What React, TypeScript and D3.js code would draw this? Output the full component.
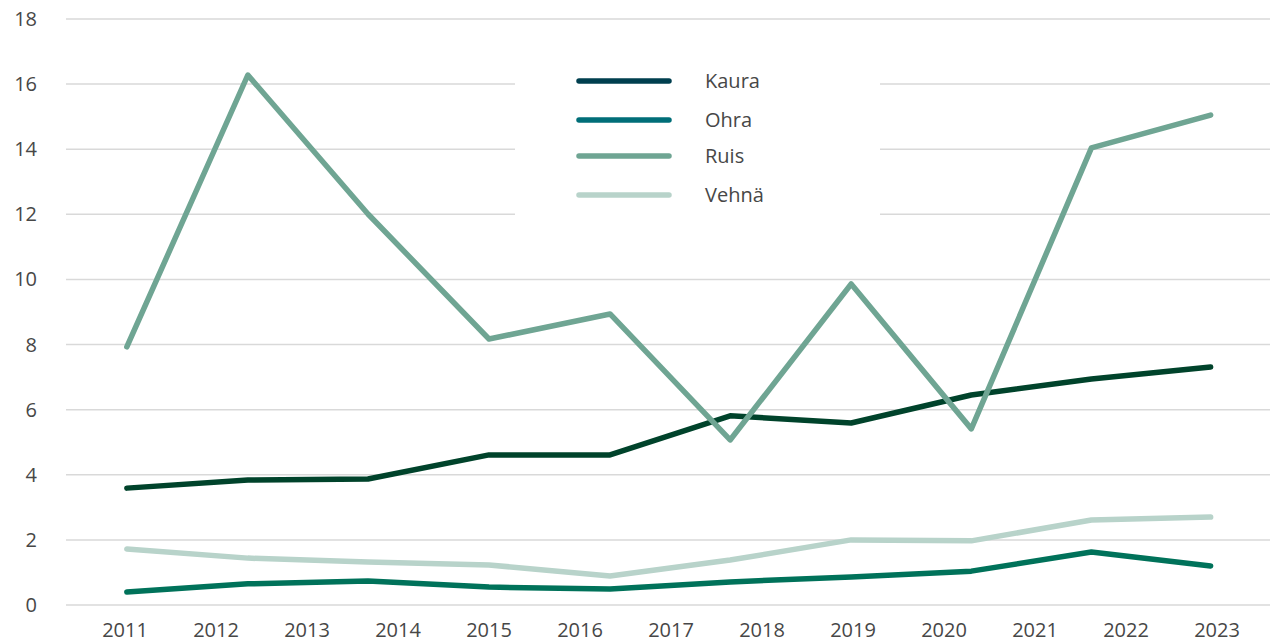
import React from "react";
import * as d3 from "d3";

const yearLabels = ["2011","2012","2013","2014","2015","2016","2017","2018","2019","2020","2021","2022","2023"];
// data points sit at fractional positions on the year axis
const pointYears = [2011.02, 2012.35, 2013.67, 2015.0, 2016.33, 2017.65, 2018.98, 2020.3, 2021.62, 2022.93];
const kaura = [3.59, 3.84, 3.87, 4.61, 4.61, 5.81, 5.59, 6.45, 6.94, 7.31];
const ohra = [0.4, 0.65, 0.74, 0.55, 0.49, 0.71, 0.86, 1.04, 1.63, 1.2];
const ruis = [7.93, 16.28, 12.01, 8.17, 8.94, 5.07, 9.86, 5.41, 14.04, 15.05];
const vehna = [1.72, 1.44, 1.32, 1.23, 0.89, 1.38, 2.0, 1.97, 2.61, 2.7];
const yTicks = [0, 2, 4, 6, 8, 10, 12, 14, 16, 18];

const seriesNames = ["Kaura", "Ohra", "Ruis", "Vehnä"];
const seriesValues = [kaura, ohra, ruis, vehna];
const lineColors = ["#00432b", "#00725a", "#6fa593", "#b8d3ca"];
const legendColors = ["#003f4f", "#006e78", "#6fa593", "#b8d3ca"];

export default function App() {
  const W = 1270, H = 643;
  const x = d3.scaleLinear().domain([2011, 2023]).range([125, 1217]);
  const y = d3.scaleLinear().domain([0, 18]).range([605, 19]);
  const line = d3.line<number>()
    .x((_, i) => x(pointYears[i]))
    .y((d) => y(d));
  const font = "'Open Sans', sans-serif";
  const textColor = "#474747";
  return (
    <svg width={W} height={H} style={{ position: "absolute", left: 0, top: 0 }}>
      <rect width={W} height={H} fill="#fff" />
      {yTicks.map((t) => (
        <g key={t}>
          <line x1={66} x2={W} y1={y(t)} y2={y(t)} stroke="#d9d9d9" strokeWidth={1.5} />
          <text x={37} y={y(t)} dy="0.35em" textAnchor="end" fontFamily={font} fontSize={20} fill={textColor}>{t}</text>
        </g>
      ))}
      {yearLabels.map((l, i) => (
        <text key={l} x={x(2011 + i)} y={630} dy="0.35em" textAnchor="middle" fontFamily={font} fontSize={20} fill={textColor}>{l}</text>
      ))}
      {seriesValues.map((vals, i) => (
        <path key={seriesNames[i]} d={line(vals) || ""} fill="none" stroke={lineColors[i]} strokeWidth={5.5} strokeLinecap="round" strokeLinejoin="round" />
      ))}
      <rect x={515} y={55} width={365} height={167} fill="#fff" />
      {seriesNames.map((n, i) => {
        const ly = [81, 120, 156, 195][i];
        return (
          <g key={n}>
            <line x1={579} x2={669} y1={ly} y2={ly} stroke={legendColors[i]} strokeWidth={5.5} strokeLinecap="round" />
            <text x={705} y={ly} dy="0.35em" fontFamily={font} fontSize={20} fill={textColor}>{n}</text>
          </g>
        );
      })}
    </svg>
  );
}
